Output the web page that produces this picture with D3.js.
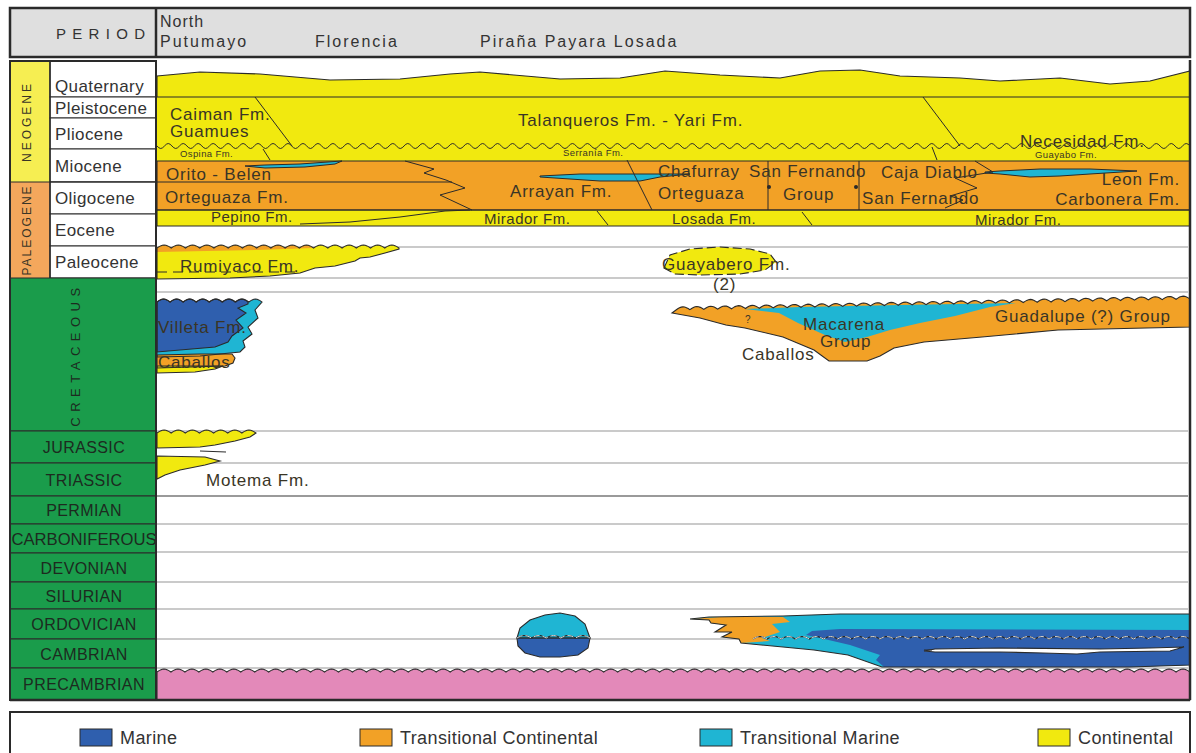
<!DOCTYPE html>
<html>
<head>
<meta charset="utf-8">
<script src="https://cdn.jsdelivr.net/npm/d3@7"></script>
<style>
  body { margin: 0; background: #fff; }
  text { font-family: "Liberation Sans", Arial, sans-serif; }
</style>
</head>
<body>
<svg id="chart" width="1196" height="753"></svg>
<script>
// ---------- Time column (chart depth units, top = 0) ----------
const eras = [
  { name: "NEOGENE",   top: 1,   base: 122, color: "#f6ee52", spacing: 3 },
  { name: "PALEOGENE", top: 122, base: 218, color: "#f4a75c", spacing: 2 }
];
const epochs = [
  { name: "Quaternary",  top: 1,   base: 37, label: 32 },
  { name: "Pleistocene", top: 37,  base: 58 },
  { name: "Pliocene",    top: 58,  base: 89 },
  { name: "Miocene",     top: 89,  base: 122 },
  { name: "Oligocene",   top: 122, base: 154 },
  { name: "Eocene",      top: 154, base: 186 },
  { name: "Paleocene",   top: 186, base: 218 }
];
const systems = [
  { name: "CRETACEOUS",    top: 218, base: 371, vertical: true },
  { name: "JURASSIC",      top: 371, base: 403 },
  { name: "TRIASSIC",      top: 403, base: 436 },
  { name: "PERMIAN",       top: 436, base: 464 },
  { name: "CARBONIFEROUS", top: 464, base: 493, fit: 145 },
  { name: "DEVONIAN",      top: 493, base: 522 },
  { name: "SILURIAN",      top: 522, base: 549 },
  { name: "ORDOVICIAN",    top: 549, base: 579 },
  { name: "CAMBRIAN",      top: 579, base: 608 },
  { name: "PRECAMBRIAN",   top: 608, base: 640 }
];
const gridLines = [187, 218, 232, 371, 403, 436, 464, 492, 522, 549, 579, 608];

// ---------- Section localities (distance along section) ----------
const localities = [
  { lines: ["North", "Putumayo"], at: 3, spacing: [1, 2] },
  { lines: ["Florencia"], at: 158, spacing: [2] },
  { lines: ["Piraña Payara Losada"], at: 323, spacing: [2] }
];

// ---------- Facies ----------
const faciesColors = {
  marine: "#2f5fae",
  transCont: "#f2a126",
  transMarine: "#1fb5d3",
  continental: "#f1e90f",
  basement: "#e389b9",
  none: "#ffffff"
};
const legendItems = [
  { key: "marine", label: "Marine", at: 80 },
  { key: "transCont", label: "Transitional Continental", at: 360 },
  { key: "transMarine", label: "Transitional Marine", at: 700 },
  { key: "continental", label: "Continental", at: 1038 }
];

// ---------- Formation bodies (u = distance, v = depth); "s"/"c" = unconformable scalloped/sinuous edge ----------
const upperBodies = [
  { facies: "continental", outline: true, pts: [[0,16],[43,12],[103,14],[173,20],[243,19],[293,14],[323,12],[403,19],[463,18],[508,11],[563,15],[623,18],[663,11],[703,10],[743,16],[803,18],[843,21],[903,18],[953,24],[993,21],[1033,11],[1033,37],[0,37]] },
  { facies: "continental", outline: false, pts: [[0,37],[1033,37],[1033,101],[0,101]] },
  { facies: "transCont", outline: true, pts: [[0,101],[1033,101],[1033,150],[0,150]] },
  { facies: "continental", outline: true, pts: [[0,150],[1033,150],[1033,166],[0,166]] }
];
const paleoceneBodies = [
  { facies: "continental", outline: true, pts: [["s",0,188,242,188],[242,189],[228,193],[213,197],[203,198],[198,201],[178,206],[158,208],[143,213],[113,216],[73,218],[0,219]] },
  { facies: "transCont", outline: false, pts: [["s",0,188,156,188],[156,188],[100,190],[0,192]] },
  { facies: "continental", outline: "dash", pts: [[507,208],[513,195],[533,189],[563,187],[593,189],[613,194],[619,202],[608,210],[583,214],[543,215],[518,214]] }
];
const cretaceousBodies = [
  { facies: "transMarine", outline: true, pts: [["s",0,242,105,242],[105,242],[98,250],[101,258],[91,267],[95,274],[86,281],[88,287],[83,292],[43,296],[0,297]] },
  { facies: "marine", outline: true, pts: [["s",0,242,91,242],[91,244],[81,248],[89,253],[79,260],[86,268],[75,276],[71,282],[58,287],[0,292]] },
  { facies: "transCont", outline: true, pts: [[0,295],[43,294],[75,294],[78,298],[76,303],[68,306],[0,308]] },
  { facies: "continental", outline: true, pts: [[0,306],[66,306],[58,309],[38,312],[0,313]] },
  { facies: "transCont", outline: true, pts: [[515,253],["s",519,250,1033,239],[1033,267],[901,270],[825,277],[767,282],[737,288],[723,296],[710,301],[672,301],[657,290],[626,277],[588,268],[569,265],[543,258]] },
  { facies: "transMarine", outline: false, pts: [[588,249],[643,247],[743,245],[859,243],[833,247],[798,256],[763,263],[733,270],[710,277],[688,282],[668,275],[641,263],[622,253]] }
];
const jurassicBodies = [
  { facies: "continental", outline: true, pts: [["s",0,373,99,373],[99,373],[93,377],[78,381],[58,385],[43,387],[0,388]] },
  { facies: "continental", outline: true, pts: [[0,396],[48,397],[63,401],[48,405],[23,410],[8,415],[0,419]] }
];
const lowerBodies = [
  { facies: "transMarine", outline: true, pts: [[360,578],[363,568],[373,560],[388,555],[403,553],[418,556],[428,564],[433,578]] },
  { facies: "marine", outline: true, pts: [[360,578],[433,578],[431,588],[421,595],[403,597],[383,597],[368,593],[361,586]] },
  { facies: "transMarine", outline: true, pts: [[533,559],[552,557],[626,556],[683,554],[1033,554],[1033,605],[973,607],[725,607],[691,595],[657,590],[626,587],[584,583],[582,579],[565,577],[575,572],[558,572],[569,565],[554,563],[552,560]] },
  { facies: "transCont", outline: false, pts: [[533,559],[563,557],[626,557],[633,562],[615,564],[623,572],[605,578],[613,581],[584,583],[582,579],[565,577],[575,572],[558,572],[569,565],[554,563],[552,560]] },
  { facies: "marine", outline: false, pts: [[655,571],[683,569],[1033,570],[1033,605],[973,607],[727,607],[719,600],[723,595],[693,585],[663,578],[649,575]] },
  { facies: "none", outline: true, pts: [[767,591],[778,589],[843,588],[943,589],[993,588],[1027,587],[1013,591],[943,592],[920,594],[886,593],[843,592],[778,592]] },
  { facies: "basement", outline: true, pts: [["s",0,612,1033,612],[1033,640],[0,640]] }
];
const miocenelenses = [
  [[88,106],[108,105],[143,104],[185,101],[178,104],[148,107],[108,108],[88,106]],
  [[383,116],[423,114],[483,114],[533,114],[503,117],[483,121],[443,121],[413,119],[383,117]],
  [[828,112],[843,111],[883,109],[933,109],[980,111],[933,114],[903,116],[873,117],[843,114],[828,113]]
];

// ---------- Formation contacts ----------
const contacts = [
  [[0,122],[295,122]],
  [[248,101],[277,109],[267,113],[289,120],[308,128],[283,135],[315,150]],
  [[143,164],[193,162],[243,157],[288,151],[313,150]],
  [[98,37],[135,86]],
  [[106,89],[113,100]],
  [[766,37],[803,86]],
  [[775,87],[780,100]],
  [[470,100],[495,150]],
  [[611,101],[611,150]],
  [[702,101],[702,150]],
  [[440,151],[451,165]],
  [[645,152],[655,165]],
  [[818,101],[836,112],[798,118],[820,128],[793,136],[806,140],[788,148]],
  [[43,391],[69,392]],
  [[767,590],[775,590]]
];
const contactDots = [[612,127],[699,127]];

// ---------- Formation names ----------
const labels = [
  { t: "Caiman Fm.", u: 13, v: 60 },
  { t: "Guamues", u: 13, v: 77 },
  { t: "Ospina Fm.", u: 23, v: 97, size: "small" },
  { t: "Talanqueros Fm. - Yari Fm.", u: 361, v: 66 },
  { t: "Necesidad Fm.", u: 863, v: 87 },
  { t: "Guayabo Fm.", u: 878, v: 98, size: "small" },
  { t: "Serranía Fm.", u: 406, v: 96, size: "small" },
  { t: "Orito - Belen", u: 9, v: 120 },
  { t: "Orteguaza Fm.", u: 8, v: 143 },
  { t: "Pepino Fm.", u: 54, v: 162, size: "mid" },
  { t: "Arrayan Fm.", u: 353, v: 137 },
  { t: "Chafurray", u: 501, v: 117 },
  { t: "San Fernando", u: 592, v: 117 },
  { t: "Orteguaza", u: 501, v: 139 },
  { t: "Group", u: 626, v: 140 },
  { t: "Caja Diablo", u: 724, v: 118 },
  { t: "San Fernando", u: 705, v: 144 },
  { t: "Leon Fm.", u: 1023, v: 125, anchor: "end" },
  { t: "Carbonera Fm.", u: 1023, v: 145, anchor: "end" },
  { t: "Mirador Fm.", u: 327, v: 164, size: "mid" },
  { t: "Losada Fm.", u: 515, v: 164, size: "mid" },
  { t: "Mirador Fm.", u: 818, v: 165, size: "mid" },
  { t: "Rumiyaco Fm.", u: 23, v: 212 },
  { t: "Guayabero Fm.", u: 505, v: 210 },
  { t: "(2)", u: 556, v: 230 },
  { t: "Villeta Fm.", u: 1, v: 273 },
  { t: "Caballos", u: 1, v: 308 },
  { t: "Macarena", u: 646, v: 270 },
  { t: "Group", u: 663, v: 287 },
  { t: "Caballos", u: 585, v: 300 },
  { t: "Guadalupe (?) Group", u: 838, v: 262 },
  { t: "?", u: 588, v: 263, size: "tiny" },
  { t: "Motema Fm.", u: 49, v: 426 }
];

// ---------- Scales & layout ----------
const svg = d3.select("#chart");
const x = d3.scaleLinear().domain([0, 1033]).range([157, 1190]);
const y = d3.scaleLinear().domain([0, 640]).range([60, 700]);
const colLeft = 10, eraRight = 50, colRight = 156;
const ink = "#2a2a2a", labelInk = "#3a3526";

// edge generators for unconformities
function edgePoints(kind, u0, v0, u1, v1, period, amp) {
  const X0 = x(u0), Y0 = y(v0), X1 = x(u1), Y1 = y(v1);
  const n = Math.max(1, Math.round(Math.abs(X1 - X0) / period));
  const k = 8, out = [];
  for (let i = 0; i < n; i++) {
    for (let j = 0; j <= k; j++) {
      if (i > 0 && j === 0) continue;
      const f = j / k, t = (i + f) / n;
      const off = kind === "s" ? -amp * Math.sin(Math.PI * f) : amp * Math.sin(2 * Math.PI * f);
      out.push([X0 + (X1 - X0) * t, Y0 + (Y1 - Y0) * t + off]);
    }
  }
  return out;
}
function expand(pts) {
  const out = [];
  pts.forEach(p => {
    if (typeof p[0] === "string") out.push(...edgePoints(p[0], p[1], p[2], p[3], p[4], 14, 3));
    else out.push([x(p[0]), y(p[1])]);
  });
  return out;
}
const polyLine = d3.line();
const closed = pts => polyLine(pts) + "Z";

// ---------- Header ----------
const header = svg.append("g");
header.append("rect").attr("x", colLeft).attr("y", 8).attr("width", 1180).attr("height", 49)
  .attr("fill", "#dfdfdf").attr("stroke", ink).attr("stroke-width", 2.5);
header.append("line").attr("x1", colRight).attr("x2", colRight).attr("y1", 8).attr("y2", 57)
  .attr("stroke", ink).attr("stroke-width", 2.5);
header.append("text").attr("x", 56).attr("y", 39).attr("font-size", 15).attr("letter-spacing", 6.3)
  .attr("fill", "#333").text("PERIOD");
localities.forEach(loc => {
  loc.lines.forEach((ln, i) => {
    header.append("text")
      .attr("x", x(loc.at)).attr("y", 47 - (loc.lines.length - 1 - i) * 20)
      .attr("font-size", 16).attr("letter-spacing", loc.spacing[i])
      .attr("fill", "#333").text(ln);
  });
});

// ---------- Chart grid ----------
const chart = svg.append("g");
chart.selectAll("line.grid").data(gridLines).join("line")
  .attr("x1", x(0)).attr("x2", x(1031))
  .attr("y1", d => y(d)).attr("y2", d => y(d))
  .attr("stroke", d => d === 436 ? "#9a9a9a" : "#b8b8b8")
  .attr("stroke-width", d => d === 436 ? 2 : 1.3);

// ---------- Formation bodies ----------
function drawBodies(bodies) {
  const g = chart.append("g");
  bodies.forEach(b => {
    g.append("path").attr("d", closed(expand(b.pts))).attr("fill", faciesColors[b.facies]).attr("stroke", "none");
  });
  bodies.forEach(b => {
    if (!b.outline) return;
    g.append("path").attr("d", closed(expand(b.pts))).attr("fill", "none")
      .attr("stroke", ink).attr("stroke-width", 1.1)
      .attr("stroke-dasharray", b.outline === "dash" ? "9,4" : null);
  });
}
drawBodies(upperBodies);
drawBodies(paleoceneBodies);
drawBodies(cretaceousBodies);
drawBodies(jurassicBodies);
drawBodies(lowerBodies);

// Neogene unconformity
chart.append("path").attr("d", polyLine(edgePoints("c", 0, 86, 1033, 86, 15, 2.5)))
  .attr("fill", "none").attr("stroke", ink).attr("stroke-width", 1);

// Ordovician/Cambrian break inside marine bodies
[[360, 433, 578], [596, 1033, 579]].forEach(([a, b, v]) => {
  const d = polyLine(edgePoints("s", a, v, b, v, 14, 2.5));
  chart.append("path").attr("d", d).attr("fill", "none").attr("stroke", ink).attr("stroke-width", 1.2);
  chart.append("path").attr("d", d).attr("fill", "none").attr("stroke", "#d8d8d8")
    .attr("stroke-width", 1).attr("stroke-dasharray", "6,3");
});

// Miocene lenses
chart.selectAll("path.lens").data(miocenelenses).join("path")
  .attr("d", d => closed(d.map(p => [x(p[0]), y(p[1])])))
  .attr("fill", faciesColors.transMarine).attr("stroke", ink).attr("stroke-width", 1);

// Contacts
chart.selectAll("path.contact").data(contacts).join("path")
  .attr("d", d => polyLine(d.map(p => [x(p[0]), y(p[1])])))
  .attr("fill", "none").attr("stroke", ink).attr("stroke-width", 1);
chart.append("path")
  .attr("d", polyLine([[x(0), y(212)], [x(140), y(212)]]))
  .attr("stroke", ink).attr("stroke-width", 1).attr("stroke-dasharray", "10,6");
chart.selectAll("circle.dot").data(contactDots).join("circle")
  .attr("cx", d => x(d[0])).attr("cy", d => y(d[1])).attr("r", 2).attr("fill", ink);

// Labels
const sizes = { normal: [17, 0.8], mid: [15, 0.5], small: [9.5, 0.4], tiny: [10, 0] };
chart.selectAll("text.lab").data(labels).join("text")
  .attr("x", d => x(d.u)).attr("y", d => y(d.v))
  .attr("font-size", d => sizes[d.size || "normal"][0])
  .attr("letter-spacing", d => sizes[d.size || "normal"][1])
  .attr("text-anchor", d => d.anchor || "start")
  .attr("fill", labelInk).text(d => d.t);

// ---------- Time column ----------
const col = svg.append("g");
eras.forEach(e => {
  col.append("rect").attr("x", colLeft).attr("y", y(e.top)).attr("width", eraRight - colLeft)
    .attr("height", y(e.base) - y(e.top)).attr("fill", e.color);
  const cy = (y(e.top) + y(e.base)) / 2;
  col.append("text").attr("transform", `translate(${(colLeft + eraRight) / 2 + 1},${cy}) rotate(-90)`)
    .attr("text-anchor", "middle").attr("font-size", 12).attr("letter-spacing", e.spacing)
    .attr("fill", "#3a3526").text(e.name);
});
epochs.forEach(e => {
  col.append("rect").attr("x", eraRight).attr("y", y(e.top)).attr("width", colRight - eraRight)
    .attr("height", y(e.base) - y(e.top)).attr("fill", "#fff").attr("stroke", ink).attr("stroke-width", 1);
  const base = e.label !== undefined ? y(e.label) : (y(e.top) + y(e.base)) / 2 + 6;
  col.append("text").attr("x", eraRight + 5).attr("y", base)
    .attr("font-size", 17).attr("letter-spacing", 0.4).attr("fill", "#333").text(e.name);
});
systems.forEach(s => {
  col.append("rect").attr("x", colLeft).attr("y", y(s.top)).attr("width", colRight - colLeft)
    .attr("height", y(s.base) - y(s.top)).attr("fill", "#1a9c4b").attr("stroke", ink).attr("stroke-width", 1);
  const cy = (y(s.top) + y(s.base)) / 2;
  if (s.vertical) {
    col.append("text").attr("transform", `translate(${(colLeft + colRight) / 2 - 3},${cy}) rotate(-90)`)
      .attr("text-anchor", "middle").attr("font-size", 13).attr("letter-spacing", 5.5)
      .attr("fill", "#1d2a1f").text(s.name);
  } else {
    const t = col.append("text").attr("x", (colLeft + colRight) / 2 + 1).attr("y", cy + 6)
      .attr("text-anchor", "middle").attr("font-size", 16).attr("letter-spacing", 0.4)
      .attr("fill", "#1d2a1f").text(s.name);
    if (s.fit) t.attr("textLength", s.fit).attr("lengthAdjust", "spacingAndGlyphs").attr("letter-spacing", 0);
  }
});
// column frame
col.append("rect").attr("x", colLeft).attr("y", y(1)).attr("width", colRight - colLeft)
  .attr("height", y(640) - y(1)).attr("fill", "none").attr("stroke", ink).attr("stroke-width", 2);
col.append("line").attr("x1", eraRight).attr("x2", eraRight).attr("y1", y(1)).attr("y2", y(218))
  .attr("stroke", ink).attr("stroke-width", 1.5);
col.append("line").attr("x1", colLeft).attr("x2", colRight).attr("y1", y(122)).attr("y2", y(122))
  .attr("stroke", ink).attr("stroke-width", 1.2);

// chart frame: right and bottom edges
svg.append("line").attr("x1", x(1033)).attr("x2", x(1033)).attr("y1", y(0)).attr("y2", y(640))
  .attr("stroke", ink).attr("stroke-width", 2.5);
svg.append("line").attr("x1", colLeft).attr("x2", x(1033)).attr("y1", y(640)).attr("y2", y(640))
  .attr("stroke", ink).attr("stroke-width", 2.5);

// ---------- Legend ----------
const legend = svg.append("g");
legend.append("rect").attr("x", colLeft).attr("y", 712).attr("width", 1180).attr("height", 60)
  .attr("fill", "#fff").attr("stroke", ink).attr("stroke-width", 2);
legendItems.forEach(it => {
  legend.append("rect").attr("x", it.at).attr("y", 729).attr("width", 32).attr("height", 17)
    .attr("fill", faciesColors[it.key]).attr("stroke", ink).attr("stroke-width", 1);
  legend.append("text").attr("x", it.at + 40).attr("y", 744).attr("font-size", 18)
    .attr("letter-spacing", 0.4).attr("fill", "#333").text(it.label);
});
</script>
</body>
</html>
